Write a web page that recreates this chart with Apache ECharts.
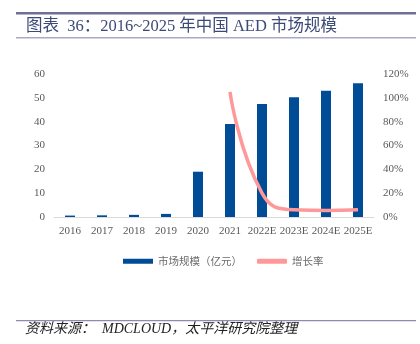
<!DOCTYPE html>
<html>
<head>
<meta charset="utf-8">
<script src="https://cdn.jsdelivr.net/npm/echarts@6/dist/echarts.min.js"></script>
<style>
  html, body { margin: 0; padding: 0; background: #ffffff; }
  #chart { width: 420px; height: 344px; }
</style>
</head>
<body>
<div id="chart"></div>
<script>
// Categories and values
const years = ['2016', '2017', '2018', '2019', '2020', '2021', '2022E', '2023E', '2024E', '2025E'];
const marketSize = [0.6, 0.7, 0.9, 1.3, 19.0, 39.0, 47.4, 50.2, 53.0, 56.1];
const growthRate = [null, null, null, null, null, 105, 20, 6, 5.5, 6];
const leftTicks = [0, 10, 20, 30, 40, 50, 60];
const rightTicks = [0, 20, 40, 60, 80, 100, 120];

const serif = '"Liberation Serif", "Times New Roman", serif';
const cjk = '"Noto Sans CJK SC", sans-serif';
const axisGray = '#595959';

const chart = echarts.init(document.getElementById('chart'), null, { renderer: 'canvas' });

chart.setOption({
  backgroundColor: '#ffffff',
  animation: false,
  graphic: [
    { type: 'rect', shape: { x: 16, y: 12, width: 400, height: 2.5 }, style: { fill: '#6f6f98' } },
    { type: 'text', left: 26, top: 18,
      style: { text: '图表  36：2016~2025 年中国 AED 市场规模', font: '16.5px "Liberation Serif", "Noto Sans CJK SC", serif', fill: '#3d4a78' } },
    { type: 'rect', shape: { x: 16, y: 37, width: 400, height: 1.5 }, style: { fill: '#a9a9c6' } },
    { type: 'rect', shape: { x: 16, y: 320, width: 400, height: 1.2 }, style: { fill: '#8c8cb0' } },
    { type: 'text', left: 25, top: 322,
      style: { text: '资料来源：  MDCLOUD，太平洋研究院整理', font: 'italic 14px ' + serif + ', ' + cjk, fill: '#222222' } }
  ],
  grid: { left: 54, right: 46, top: 74, bottom: 127 },
  legend: {
    top: 251,
    left: 118,
    itemGap: 15,
    itemWidth: 30,
    itemHeight: 5,
    textStyle: { color: '#6b6b6b', fontSize: 10.5, fontFamily: cjk },
    data: [
      { name: '市场规模（亿元）', icon: 'rect' },
      { name: '增长率', icon: 'roundRect', itemStyle: { color: '#ff9999' } }
    ]
  },
  xAxis: {
    type: 'category',
    data: years,
    axisLine: { lineStyle: { color: '#d9d9d9' } },
    axisTick: { show: false },
    axisLabel: { color: axisGray, fontSize: 11, fontFamily: serif, margin: 9, interval: 0 }
  },
  yAxis: [
    {
      type: 'value', min: leftTicks[0], max: leftTicks[leftTicks.length - 1], interval: 10,
      splitLine: { show: false }, axisLine: { show: false }, axisTick: { show: false },
      axisLabel: { color: axisGray, fontSize: 11, fontFamily: serif, margin: 9 }
    },
    {
      type: 'value', min: rightTicks[0], max: rightTicks[rightTicks.length - 1], interval: 20,
      splitLine: { show: false }, axisLine: { show: false }, axisTick: { show: false },
      axisLabel: { color: axisGray, fontSize: 11, fontFamily: serif, margin: 9, formatter: '{value}%' }
    }
  ],
  series: [
    {
      name: '市场规模（亿元）',
      type: 'bar',
      data: marketSize,
      barWidth: 10,
      itemStyle: { color: '#004c97' }
    },
    {
      name: '增长率',
      type: 'line',
      yAxisIndex: 1,
      data: growthRate,
      smooth: true,
      showSymbol: false,
      symbol: 'none',
      lineStyle: { color: '#ff9999', width: 3.5 },
      itemStyle: { color: '#ff9999' }
    }
  ]
});
</script>
</body>
</html>
